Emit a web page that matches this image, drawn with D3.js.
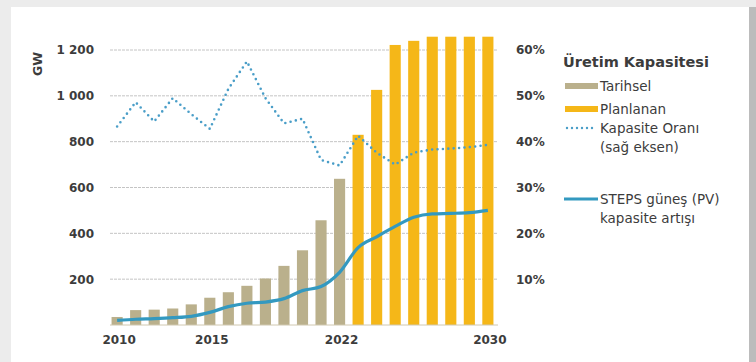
<!DOCTYPE html>
<html>
<head>
<meta charset="utf-8">
<script src="https://cdn.jsdelivr.net/npm/d3@7/dist/d3.min.js"></script>
<style>
  html, body { margin: 0; padding: 0; background: #ececec; }
  svg { display: block; font-family: "DejaVu Sans", "Open Sans", sans-serif; }
</style>
</head>
<body>
<svg id="chart" width="756" height="362"></svg>
<script>
// ---- data ----
const years = d3.range(2010, 2031);
const historicalYears = [2010,2011,2012,2013,2014,2015,2016,2017,2018,2019,2020,2021,2022];
const historicalGW = [35,65,67,72,90,119,143,171,203,258,326,457,638];
const plannedYears = [2023,2024,2025,2026,2027,2028,2029,2030];
const plannedGW = [830,1026,1222,1240,1258,1258,1258,1258];
const ratioPct = [43.3,48.6,44.4,49.5,46,42.8,51.5,57.5,49.5,44,45,36,34.8,41.3,37.6,35,37.6,38.3,38.5,38.8,39.3];
const stepsGW = [20,25,28,32,38,55,80,95,100,115,150,168,230,338,385,430,470,485,487,490,500];
const leftTicks = [200,400,600,800,1000,1200];
const rightTicks = [10,20,30,40,50,60];
const xLabels = [2010,2015,2022,2030];

// ---- setup ----
const svg = d3.select("#chart");
svg.append("rect").attr("x",11).attr("y",7).attr("width",738).attr("height",360).attr("fill","#fff");
svg.append("rect").attr("x",749).attr("y",7).attr("width",7).attr("height",360).attr("fill","#bcbcbc");

const x = d3.scaleBand().domain(years).range([106, 499]).paddingInner(0.4).paddingOuter(0.3);
const yL = d3.scaleLinear().domain([0,1200]).range([325,50]);
const yR = d3.scaleLinear().domain([0,60]).range([325,50]);

const textColor = "#3c3c3c";

// gridlines
svg.append("g").selectAll("line").data(leftTicks).join("line")
  .attr("x1",110).attr("x2",498)
  .attr("y1",d=>yL(d)).attr("y2",d=>yL(d))
  .attr("stroke","#c4c4c4").attr("stroke-width",1).attr("stroke-dasharray","3,1");

// bars
svg.append("g").selectAll("rect").data(historicalYears.map((y,i)=>({y,v:historicalGW[i]}))).join("rect")
  .attr("x",d=>x(d.y)).attr("width",x.bandwidth())
  .attr("y",d=>yL(d.v)).attr("height",d=>yL(0)-yL(d.v))
  .attr("fill","#bab08c");
svg.append("g").selectAll("rect").data(plannedYears.map((y,i)=>({y,v:plannedGW[i]}))).join("rect")
  .attr("x",d=>x(d.y)).attr("width",x.bandwidth())
  .attr("y",d=>yL(d.v)).attr("height",d=>yL(0)-yL(d.v))
  .attr("fill","#f5b718");

// baseline
svg.append("line").attr("x1",110).attr("x2",498).attr("y1",yL(0)).attr("y2",yL(0))
  .attr("stroke","#d0c8b0").attr("stroke-width",1);

const cx = d => x(d) + x.bandwidth()/2;

// ratio dotted line
const ratioLine = d3.line().x((d,i)=>cx(years[i])).y(d=>yR(d));
svg.append("path").datum(ratioPct).attr("d",ratioLine)
  .attr("fill","none").attr("stroke","#4a9ec8").attr("stroke-width",2.6)
  .attr("stroke-linecap","round").attr("stroke-dasharray","0,5.4");

// STEPS line
const stepsLine = d3.line().x((d,i)=>cx(years[i])).y(d=>yL(d)).curve(d3.curveMonotoneX);
svg.append("path").datum(stepsGW).attr("d",stepsLine)
  .attr("fill","none").attr("stroke","#3399c0").attr("stroke-width",3.2)
  .attr("stroke-linejoin","round");

// axes
const loc = d3.formatLocale({decimal:".", thousands:"\u00a0", grouping:[3], currency:["",""]});
const fmt = loc.format(",");
const tickFont = sel => sel.attr("fill",textColor)
  .style("font-size","12px").style("font-weight","700").style("font-family","'DejaVu Sans', sans-serif");

const axL = svg.append("g").attr("transform","translate(94,0)")
  .call(d3.axisLeft(yL).tickValues(leftTicks).tickSize(0).tickFormat(fmt));
axL.select(".domain").remove();
axL.selectAll("text").attr("x",0).call(tickFont);

const axR = svg.append("g").attr("transform","translate(516,0)")
  .call(d3.axisRight(yR).tickValues(rightTicks).tickSize(0).tickFormat(d=>d+"%"));
axR.select(".domain").remove();
axR.selectAll("text").attr("x",0).call(tickFont);

const axB = svg.append("g").attr("transform","translate(2,"+ (yL(0)+7) +")")
  .call(d3.axisBottom(x).tickValues(xLabels).tickSize(0));
axB.select(".domain").remove();
axB.selectAll("text").call(tickFont);

svg.append("text").attr("transform","translate(42,64) rotate(-90)")
  .attr("text-anchor","middle").attr("fill",textColor)
  .style("font-size","12.5px").style("font-weight","700").text("GW");

// legend
const lg = svg.append("g").attr("fill",textColor).style("font-size","13.5px");
lg.append("text").attr("x",563).attr("y",67).style("font-weight","700").style("font-size","14.5px").text("Üretim Kapasitesi");
lg.append("rect").attr("x",565).attr("y",83).attr("width",33).attr("height",6).attr("fill","#bab08c");
lg.append("text").attr("x",600).attr("y",91).text("Tarihsel");
lg.append("rect").attr("x",565).attr("y",106).attr("width",33).attr("height",6).attr("fill","#f5b718");
lg.append("text").attr("x",600).attr("y",114).text("Planlanan");
lg.append("line").attr("x1",567).attr("x2",597).attr("y1",128).attr("y2",128)
  .attr("stroke","#4a9ec8").attr("stroke-width",2.4).attr("stroke-linecap","round").attr("stroke-dasharray","0,5");
lg.append("text").attr("x",600).attr("y",133).text("Kapasite Oranı");
lg.append("text").attr("x",600).attr("y",152).text("(sağ eksen)");
lg.append("line").attr("x1",564).attr("x2",598).attr("y1",199).attr("y2",199)
  .attr("stroke","#3399c0").attr("stroke-width",3);
lg.append("text").attr("x",600).attr("y",204).text("STEPS güneş (PV)");
lg.append("text").attr("x",600).attr("y",223).text("kapasite artışı");
</script>
</body>
</html>
